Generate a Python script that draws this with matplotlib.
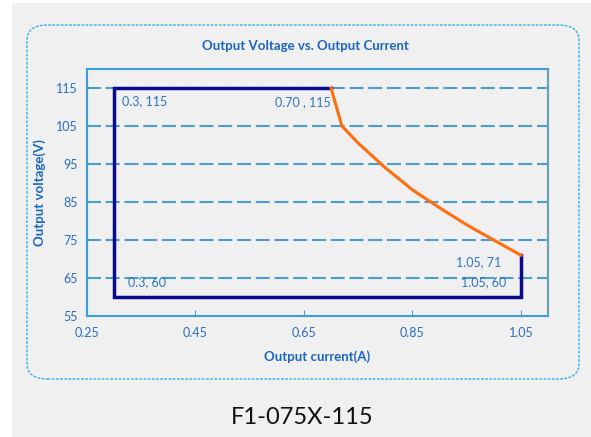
import matplotlib.pyplot as plt
from matplotlib.patches import Rectangle, FancyBboxPatch

# limit box (constant current / constant voltage corners)
box_current = [0.70, 0.3, 0.3, 1.05, 1.05]
box_voltage = [115, 115, 60, 60, 71]

# derating curve
curve_current = [0.70, 0.72, 0.75, 0.80, 0.85, 0.90, 0.95, 1.00, 1.05]
curve_voltage = [115, 105, 100.5, 94, 88.2, 83.5, 79, 75, 71]

# corner labels: (x, y, text, offset in points, alignment)
labels = [
    (0.3, 115, "0.3, 115", (5.7, -9.4), "left"),
    (0.70, 115, "0.70 , 115", (0, -10), "right"),
    (0.3, 60, "0.3, 60", (9.8, 11), "left"),
    (1.05, 71, "1.05, 71", (-13.9, -4.7), "right"),
    (1.05, 60, "1.05, 60", (-10.3, 11), "right"),
]

x_ticks = [0.25, 0.45, 0.65, 0.85, 1.05]
y_ticks = [55, 65, 75, 85, 95, 105, 115]
grid_levels = [65, 75, 85, 95, 105, 115]

font = "Lato"
blue_text = "#2a6ebb"
plt.rcParams["font.family"] = [font, "DejaVu Sans"]

fig = plt.figure(figsize=(5.91, 4.37), dpi=100)
fig.patch.set_facecolor("white")

# gray background and dashed rounded frame
fig.patches.append(Rectangle((12 / 591, 0), 1, 434 / 437, transform=fig.transFigure,
                             facecolor="#f0f0f0", edgecolor="none", zorder=-2))
fig.patches.append(FancyBboxPatch((27 / 591, (437 - 379) / 437), 552 / 591, 354 / 437,
                                  boxstyle="round,pad=0,rounding_size=0.035",
                                  transform=fig.transFigure, facecolor="none",
                                  edgecolor="#3bb0e0", linestyle=(0, (2, 1)),
                                  linewidth=1, zorder=-1))

ax = fig.add_axes([87 / 591, (437 - 316) / 437, 461 / 591, 247 / 437])
ax.set_zorder(2)
ax.set_facecolor("#f0f0f0")

for level in grid_levels:
    ax.axhline(level, color="#4a9ec8", linewidth=1.5, linestyle=(0, (6.7, 2.3)), zorder=1)

ax.plot(box_current, box_voltage, color="#0a0a8a", linewidth=2.5, zorder=3,
        solid_joinstyle="miter")
ax.plot(curve_current, curve_voltage, color="#ff6d0f", linewidth=2.2, zorder=4)

for x, y, text, offset, ha in labels:
    ax.annotate(text, xy=(x, y), xytext=offset, textcoords="offset points",
                ha=ha, va="center", fontsize=9, color="#2f74c0", zorder=5)

ax.set_xlim(0.25, 1.10)
ax.set_ylim(55, 120)
ax.set_xticks(x_ticks)
ax.set_xticklabels([f"{t:.2f}" for t in x_ticks])
ax.set_yticks(y_ticks)
ax.tick_params(axis="x", direction="in", length=4, color="#3aa0dc", labelsize=9,
               labelcolor=blue_text, pad=8)
ax.tick_params(axis="y", length=0, labelsize=9, labelcolor=blue_text, pad=6.5)

for side in ["left", "bottom", "top"]:
    ax.spines[side].set_color("#3aa0dc")
    ax.spines[side].set_linewidth(1.5)
ax.spines["right"].set_color("#6a9fb8")
ax.spines["right"].set_linewidth(1.5)

ax.set_xlabel("Output current(A)", fontsize=9.5, fontweight="bold", color="#1a66c0",
              labelpad=8)
ax.set_ylabel("Output voltage(V)", fontsize=9.5, fontweight="bold", color="#1a66c0",
              labelpad=7)

fig.text(305 / 591, 1 - 46 / 437, "Output Voltage vs. Output Current", ha="center",
         va="center", fontsize=9.5, fontweight="bold", color="#1a66c0")
fig.text(302 / 591, 1 - 418 / 437, "F1-075X-115", ha="center", va="center",
         fontsize=17, color="#111111")

fig.savefig("out.png", dpi=100, facecolor=fig.get_facecolor())
